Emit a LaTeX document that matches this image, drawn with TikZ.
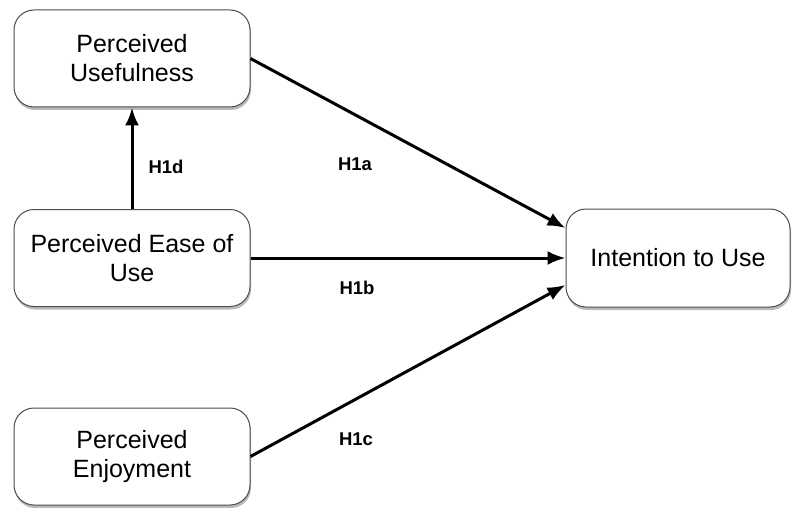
\documentclass[tikz,border=0pt]{standalone}
\usepackage{fontspec}
\setmainfont{Liberation Sans}
\usetikzlibrary{arrows.meta,shadows}
\begin{document}
\begin{tikzpicture}[x=1pt,y=-1pt,
  box/.style={draw=black!70, line width=1pt, rounded corners=20pt, fill=white,
    minimum width=236pt, minimum height=97pt, align=center, inner sep=2pt,
    font=\fontsize{25}{29}\selectfont,
    drop shadow={opacity=0.45, fill=black!60, shadow xshift=1pt, shadow yshift=-3pt}},
  conn/.style={line width=3pt, -{Latex[length=18pt,width=14pt]}},
  hyp/.style={font=\fontsize{18.5}{20}\selectfont\bfseries}]
\useasboundingbox (0,0) rectangle (792,508);
\node[box] (pu) at (132,58.5) {Perceived\\Usefulness};
\node[box] (peou) at (132,258) {Perceived Ease of\\Use};
\node[box] (pe) at (132,456.5) {Perceived\\Enjoyment};
\node[box, minimum width=224pt, minimum height=98pt] (iu) at (678,258) {Intention to Use};
\draw[conn] (pu.east) -- ([yshift=30pt]iu.west);
\draw[conn] (peou.east) -- (iu.west);
\draw[conn] (pe.east) -- ([yshift=-27pt]iu.west);
\draw[conn] (peou.north) -- (pu.south);
\node[hyp] (h1d) at (166,167) {H1d};
\node[hyp] (h1a) at (355,164) {H1a};
\node[hyp] (h1b) at (357,288) {H1b};
\node[hyp] (h1c) at (356,439) {H1c};
\end{tikzpicture}
\end{document}
